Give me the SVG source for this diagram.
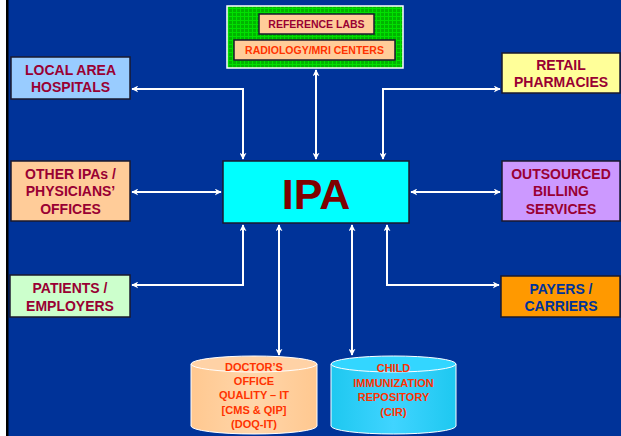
<svg xmlns="http://www.w3.org/2000/svg" width="621" height="436" viewBox="0 0 621 436">
<defs>
<marker id="ah" viewBox="0 0 10 10" refX="9" refY="5" markerWidth="7" markerHeight="7" orient="auto-start-reverse" markerUnits="userSpaceOnUse">
<path d="M0,0 L10,5 L0,10 L3,5 z" fill="#FFFFFF"/>
</marker>
<pattern id="grid" width="4" height="4" patternUnits="userSpaceOnUse">
<rect width="4" height="4" fill="#00B400"/>
<path d="M0,0.5 H4 M0.5,0 V4" stroke="#00E000" stroke-width="1"/>
</pattern>
<linearGradient id="gpeach" x1="0" y1="0" x2="1" y2="0">
<stop offset="0" stop-color="#FFC890"/>
<stop offset="0.5" stop-color="#FFD6AA"/>
<stop offset="1" stop-color="#FFC890"/>
</linearGradient>
<linearGradient id="gcyan" x1="0" y1="0" x2="1" y2="0">
<stop offset="0" stop-color="#1EC8F0"/>
<stop offset="0.5" stop-color="#40D4FF"/>
<stop offset="1" stop-color="#1EC8F0"/>
</linearGradient>
</defs>
<style>
.box{stroke:#1a1a2e;stroke-width:1.5}
.t{font-family:"Liberation Sans",Arial,sans-serif;font-weight:bold;text-anchor:middle}
.dr{fill:#990033;font-size:14px}
.sm{font-size:10.5px}
.cy{font-size:11px;fill:#FF3300}
.c{fill:none;stroke:#FFFFFF;stroke-width:2}
</style>
<rect x="0" y="0" width="621" height="436" fill="#003399"/>
<rect x="0" y="0" width="6" height="436" fill="#FFFFFF"/>
<rect x="6" y="0" width="2.5" height="436" fill="#000000"/>

<g id="connectors">
<path class="c" d="M316,70 V159" marker-start="url(#ah)" marker-end="url(#ah)"/>
<path class="c" d="M132,89 H243 V159" marker-start="url(#ah)" marker-end="url(#ah)"/>
<path class="c" d="M500,89 H383 V159" marker-start="url(#ah)" marker-end="url(#ah)"/>
<path class="c" d="M132,192 H221" marker-start="url(#ah)" marker-end="url(#ah)"/>
<path class="c" d="M500,192 H411" marker-start="url(#ah)" marker-end="url(#ah)"/>
<path class="c" d="M132,285 H243 V225" marker-start="url(#ah)" marker-end="url(#ah)"/>
<path class="c" d="M499,285 H387 V225" marker-start="url(#ah)" marker-end="url(#ah)"/>
<path class="c" d="M279,225 V355" marker-start="url(#ah)" marker-end="url(#ah)"/>
<path class="c" d="M352,225 V355" marker-start="url(#ah)" marker-end="url(#ah)"/>
</g>

<g id="labs-group">
<rect x="227" y="6" width="176" height="62" fill="url(#grid)" stroke="#FFFFFF" stroke-width="1.5"/>
<g id="reference-labs">
<rect class="box" x="259" y="14" width="115" height="20" fill="#FFCC99"/>
<text class="t sm" x="316.5" y="28" fill="#990033">REFERENCE LABS</text>
</g>
<g id="radiology">
<rect class="box" x="234" y="40" width="161" height="20" fill="#FFCC99"/>
<text class="t sm" x="314.5" y="54" fill="#FF3300">RADIOLOGY/MRI CENTERS</text>
</g>
</g>

<g id="local-hospitals">
<rect class="box" x="11" y="57" width="119" height="42" fill="#99CCFF"/>
<text class="t dr" x="70.5" y="75">LOCAL AREA</text>
<text class="t dr" x="70.5" y="92">HOSPITALS</text>
</g>

<g id="retail-pharmacies">
<rect class="box" x="502" y="53" width="118" height="40" fill="#FFFF99"/>
<text class="t dr" x="561" y="70">RETAIL</text>
<text class="t dr" x="561" y="87">PHARMACIES</text>
</g>

<g id="other-ipas">
<rect class="box" x="11" y="161" width="119" height="60" fill="#FFCC99"/>
<text class="t dr" x="70.5" y="179">OTHER IPAs /</text>
<text class="t dr" x="70.5" y="196">PHYSICIANS’</text>
<text class="t dr" x="70.5" y="214">OFFICES</text>
</g>

<g id="ipa">
<rect x="223" y="161" width="186" height="62" fill="#00FFFF" stroke="#1a1a2e" stroke-width="1.5"/>
<text class="t" x="316" y="209" font-size="43" fill="#800000">IPA</text>
</g>

<g id="outsourced-billing">
<rect class="box" x="502" y="161" width="118" height="60" fill="#CC99FF"/>
<text class="t dr" x="561" y="179">OUTSOURCED</text>
<text class="t dr" x="561" y="196">BILLING</text>
<text class="t dr" x="561" y="214">SERVICES</text>
</g>

<g id="patients">
<rect class="box" x="10" y="275" width="120" height="42" fill="#CCFFCC"/>
<text class="t dr" x="70" y="293">PATIENTS /</text>
<text class="t dr" x="70" y="311">EMPLOYERS</text>
</g>

<g id="payers">
<rect class="box" x="501" y="276" width="119" height="41" fill="#FF9900"/>
<text class="t dr" x="561" y="294" style="fill:#003399">PAYERS /</text>
<text class="t dr" x="561" y="311" style="fill:#003399">CARRIERS</text>
</g>

<g id="doq-it">
<path d="M191,364 V426 A63,8 0 0 0 317,426 V364" fill="url(#gpeach)" stroke="#FFFFFF" stroke-width="1"/>
<ellipse cx="254" cy="364" rx="63" ry="8" fill="#FFD2A6" stroke="#FFFFFF" stroke-width="1"/>
<text class="t cy" x="254" y="371">DOCTOR’S</text>
<text class="t cy" x="254" y="385">OFFICE</text>
<text class="t cy" x="254" y="399">QUALITY – IT</text>
<text class="t cy" x="254" y="414">[CMS &amp; QIP]</text>
<text class="t cy" x="254" y="428">(DOQ-IT)</text>
</g>

<g id="cir">
<path d="M331,364 V426 A62.5,8 0 0 0 456,426 V364" fill="url(#gcyan)" stroke="#FFFFFF" stroke-width="1"/>
<ellipse cx="393.5" cy="364" rx="62.5" ry="8" fill="#33D6FF" stroke="#FFFFFF" stroke-width="1"/>
<text class="t cy" x="393.5" y="372">CHILD</text>
<text class="t cy" x="393.5" y="387">IMMUNIZATION</text>
<text class="t cy" x="393.5" y="401">REPOSITORY</text>
<text class="t cy" x="393.5" y="416">(CIR)</text>
</g>
</svg>
